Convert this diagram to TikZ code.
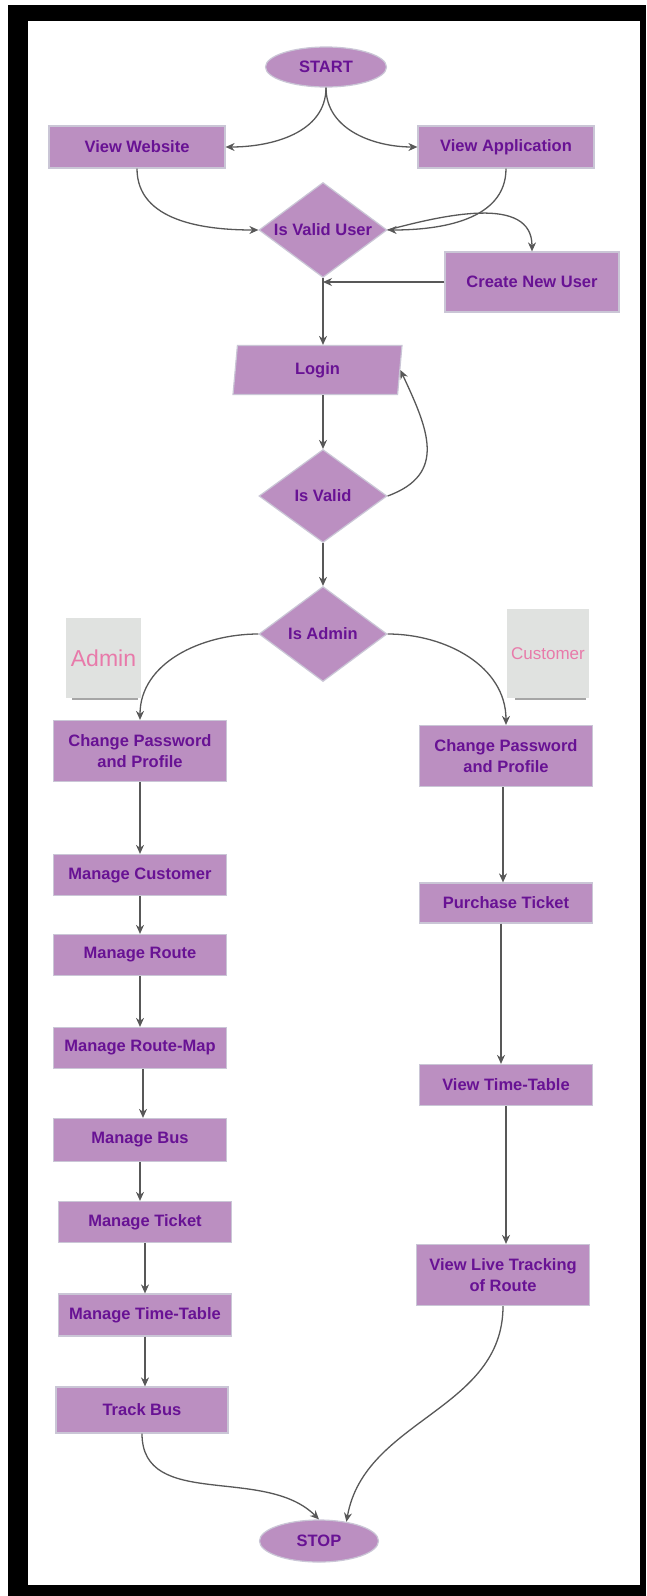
\documentclass[tikz,border=0pt]{standalone}
\usepackage{fontspec}
\setmainfont{Liberation Sans}
\usetikzlibrary{shapes.geometric,arrows.meta,calc}
\definecolor{boxfill}{RGB}{187,143,193}
\definecolor{boxedge}{RGB}{202,198,214}
\definecolor{boxtext}{RGB}{104,18,148}
\definecolor{arrowc}{RGB}{88,88,88}
\definecolor{cardfill}{RGB}{224,226,224}
\definecolor{cardtext}{RGB}{232,122,170}
\begin{document}
\begin{tikzpicture}[x=1pt,y=1pt,
  base/.style={fill=boxfill, draw=boxedge, line width=1.2pt, text=boxtext,
    font=\bfseries\fontsize{16.5}{21.5}\selectfont, align=center, inner sep=0pt},
  box/.style={base, rectangle, minimum width=173pt},
  dia/.style={base, diamond, aspect=1.35, minimum width=128pt, minimum height=95pt},
  ell/.style={base, ellipse, minimum width=121pt, minimum height=40pt},
  para/.style={base, trapezium, trapezium left angle=74, trapezium right angle=106,
    trapezium stretches body, minimum width=169pt, minimum height=49pt},
  card/.style={rectangle, fill=cardfill, inner sep=0pt, text=cardtext},
  arr/.style={-{Stealth[length=9pt,width=8pt]}, line width=1.3pt, draw=arrowc},
]
\useasboundingbox (0,0) rectangle (646,-1596);
\fill[white] (0,0) rectangle (646,-1596);
\fill[black] (8,-5) rectangle (646,-1596);
\fill[white] (28,-21) rectangle (640,-1585);

% nodes
\node[ell] (start) at (326,-67) {START};
\node[box, minimum height=42pt, minimum width=176pt] (web) at (137,-147) {View Website};
\node[box, minimum height=42pt, minimum width=176pt] (app) at (506,-147) {View Application};
\node[dia] (vu) at (323,-230) {Is Valid User};
\node[box, minimum height=60pt, minimum width=174pt] (newu) at (532,-282) {Create New User};
\node[para] (login) at (317.5,-370) {Login};
\node[dia, minimum height=93pt] (iv) at (323,-496) {Is Valid};
\node[dia] (ia) at (323,-634) {Is Admin};

\fill[gray!70] (72,-697) rectangle (138,-699.5);
\node[card, minimum width=75pt, minimum height=80pt, font=\fontsize{23}{23}\selectfont] (acard) at (103.5,-658) {Admin};
\fill[gray!70] (515,-697) rectangle (586,-699.5);
\node[card, minimum width=82pt, minimum height=89pt, font=\fontsize{17}{17}\selectfont] (ccard) at (548,-653.5) {Customer};

\node[box, minimum height=61pt] (acp) at (140,-751) {Change Password\\and Profile};
\node[box, minimum height=61pt] (ccp) at (506,-756) {Change Password\\and Profile};
\node[box, minimum height=41pt] (mc) at (140,-875) {Manage Customer};
\node[box, minimum height=41pt] (mr) at (140,-955) {Manage Route};
\node[box, minimum height=41pt] (mm) at (140,-1048) {Manage Route-Map};
\node[box, minimum height=43pt] (mb) at (140,-1140) {Manage Bus};
\node[box, minimum height=41pt] (mt) at (145,-1222) {Manage Ticket};
\node[box, minimum height=42pt] (mtt) at (145,-1315) {Manage Time-Table};
\node[box, minimum height=46pt, minimum width=172pt] (tb) at (142,-1410) {Track Bus};
\node[box, minimum height=40pt] (pt) at (506,-903) {Purchase Ticket};
\node[box, minimum height=41pt] (vtt) at (506,-1085) {View Time-Table};
\node[box, minimum height=61pt] (vlt) at (503,-1275) {View Live Tracking\\of Route};
\node[ell, minimum width=119pt, minimum height=42pt] (stop) at (319,-1541) {STOP};

% connectors
\draw[arr] (start.south) to[out=-90,in=0] (web.east);
\draw[arr] (start.south) to[out=-90,in=180] (app.west);
\draw[arr] (web.south) to[out=-90,in=180] (vu.west);
\draw[arr] (app.south) to[out=-90,in=0] (vu.east);
\draw[arr] (vu.east) to[out=15,in=90] (newu.north);
\draw[arr] (newu.west) -- (newu.west -| vu.south);
\draw[arr] (vu.south) -- (vu.south |- login.north);
\draw[arr] (iv.north |- login.south) -- (iv.north);
\draw[arr] (iv.east) to[out=20,in=-65,looseness=1.3] (login.east);
\draw[arr] (iv.south) -- (ia.north);
\draw[arr] (ia.west) to[out=180,in=90] (acp.north);
\draw[arr] (ia.east) to[out=0,in=90] (ccp.north);
\draw[arr] (acp.south) -- (acp.south |- mc.north);
\draw[arr] (mc.south) -- (mc.south |- mr.north);
\draw[arr] (mr.south) -- (mr.south |- mm.north);
\draw[arr] ([xshift=3pt]mm.south) -- ([xshift=3pt]mm.south |- mb.north);
\draw[arr] (mb.south) -- (mb.south |- mt.north);
\draw[arr] (mt.south) -- (mt.south |- mtt.north);
\draw[arr] (mtt.south) -- (mtt.south |- tb.north);
\draw[arr] ([xshift=-3pt]ccp.south) -- ([xshift=-3pt]ccp.south |- pt.north);
\draw[arr] ([xshift=-5pt]pt.south) -- ([xshift=-5pt]pt.south |- vtt.north);
\draw[arr] (vtt.south) -- (vtt.south |- vlt.north);
\draw[arr] (tb.south) to[out=-90,in=135] (stop.north);
\draw[arr] (vlt.south) to[out=-90,in=80] (stop.35);
\end{tikzpicture}
\end{document}
